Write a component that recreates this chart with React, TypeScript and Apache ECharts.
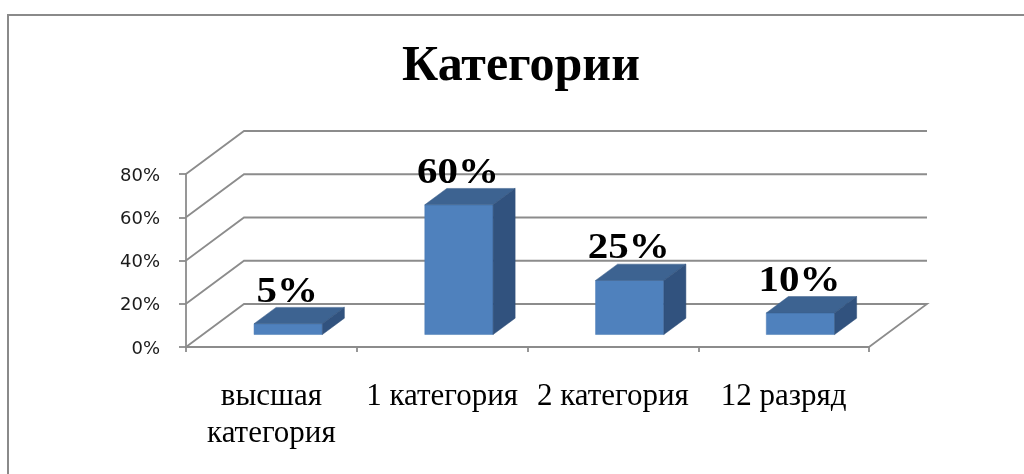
import React, { useEffect, useRef } from "react";
import * as echarts from "echarts";

const categories = ["высшая\nкатегория", "1 категория", "2 категория", "12 разряд"];
const values = [5, 60, 25, 10];
const yTicks = [0, 20, 40, 60, 80];
const chartTitle = "Категории";

const DX = 58;
const DY = -43;
const SHIFT = 0.29;
const DEPTH = 0.38;
const LABEL_FS = 35;
const SERIF = "Liberation Serif, serif";
const SANS = "DejaVu Sans, sans-serif";
const GRID_COLOR = "#8c8c8c";

export default function App() {
  const ref = useRef<HTMLDivElement>(null);
  useEffect(() => {
    if (!ref.current) return;
    const chart = echarts.init(ref.current, null, { renderer: "svg" });
    const option: any = {
      animation: false,
      grid: { left: 186, top: 174, width: 683, height: 173, containLabel: false },
      graphic: [
        {
          type: "rect",
          shape: { x: 8, y: 15, width: 1100, height: 520 },
          style: { fill: "none", stroke: "#8a8a8a", lineWidth: 2 },
          silent: true,
        },
        {
          type: "text",
          x: 521,
          y: 63,
          style: {
            text: chartTitle,
            fontFamily: SERIF,
            fontWeight: "bold",
            fontSize: 50,
            fill: "#000",
            align: "center",
            verticalAlign: "middle",
          },
        },
      ],
      xAxis: {
        type: "category",
        data: categories,
        boundaryGap: true,
        axisLine: { lineStyle: { color: GRID_COLOR, width: 1.8 } },
        axisTick: { show: true, length: 5, lineStyle: { color: GRID_COLOR, width: 1.8 } },
        axisLabel: {
          interval: 0,
          margin: 29,
          color: "#000",
          fontFamily: SERIF,
          fontSize: 31,
          lineHeight: 37,
          verticalAlign: "top",
        },
        splitLine: { show: false },
      },
      yAxis: {
        type: "value",
        min: 0,
        max: 80,
        interval: 20,
        axisLine: { show: true, lineStyle: { color: GRID_COLOR, width: 1.8 } },
        axisTick: { show: true, length: 7, lineStyle: { color: GRID_COLOR, width: 1.8 } },
        axisLabel: {
          formatter: "{value}%",
          margin: 26,
          color: "#1a1a1a",
          fontFamily: SANS,
          fontSize: 18,
          padding: [8, 0, 0, 0],
        },
        splitLine: { show: false },
      },
      series: [
        {
          type: "custom",
          clip: false,
          silent: true,
          z: 1,
          data: yTicks.map((v) => [0, v]),
          encode: { x: 0, y: 1 },
          renderItem: (params: any, api: any) => {
            const cs = params.coordSys;
            const v = api.value(1);
            const y = api.coord([0, v])[1];
            const x0 = cs.x;
            const x1 = cs.x + cs.width;
            const pts: number[][] = [
              [x0, y],
              [x0 + DX, y + DY],
              [x1 + DX, y + DY],
            ];
            if (v === 0) pts.push([x1, y]);
            return {
              type: "polyline",
              shape: { points: pts },
              style: { stroke: GRID_COLOR, lineWidth: 1.8, fill: "none" },
            };
          },
        },
        {
          type: "custom",
          clip: false,
          z: 2,
          data: values.map((v, i) => [i, v]),
          encode: { x: 0, y: 1 },
          renderItem: (params: any, api: any) => {
            const idx = api.value(0);
            const v = api.value(1);
            const base = api.coord([idx, 0]);
            const top = api.coord([idx, v]);
            const band = api.size([1, 0])[0];
            const w = band * 0.4;
            const cx = base[0] + SHIFT * DX;
            const L = cx - w / 2;
            const R = cx + w / 2;
            const fy = base[1] + SHIFT * DY;
            const ty = top[1] + SHIFT * DY;
            const ox = DEPTH * DX;
            const oy = DEPTH * DY;
            return {
              type: "group",
              children: [
                {
                  type: "polygon",
                  shape: { points: [[L, ty], [R, ty], [R, fy], [L, fy]] },
                  style: { fill: "#4f81bd", stroke: "#4a7ab4", lineWidth: 0.5 },
                },
                {
                  type: "polygon",
                  shape: { points: [[L, ty], [L + ox, ty + oy], [R + ox, ty + oy], [R, ty]] },
                  style: { fill: "#3d6391", stroke: "#3a5e8a", lineWidth: 0.5 },
                },
                {
                  type: "polygon",
                  shape: { points: [[R, ty], [R + ox, ty + oy], [R + ox, fy + oy], [R, fy]] },
                  style: { fill: "#31527e", stroke: "#2f4f79", lineWidth: 0.5 },
                },
                {
                  type: "text",
                  x: cx - 1,
                  y: ty + oy - 6 - 0.3375 * LABEL_FS,
                  scaleX: 1.17,
                  style: {
                    text: v + "%",
                    x: 0,
                    y: 0,
                    fontFamily: SERIF,
                    fontWeight: "bold",
                    fontSize: LABEL_FS,
                    fill: "#000",
                    align: "center",
                    verticalAlign: "middle",
                  },
                },
              ],
            };
          },
        },
      ],
    };
    chart.setOption(option);
    return () => chart.dispose();
  }, []);
  return <div ref={ref} style={{ position: "fixed", left: 0, top: 0, width: 1024, height: 474 }} />;
}
